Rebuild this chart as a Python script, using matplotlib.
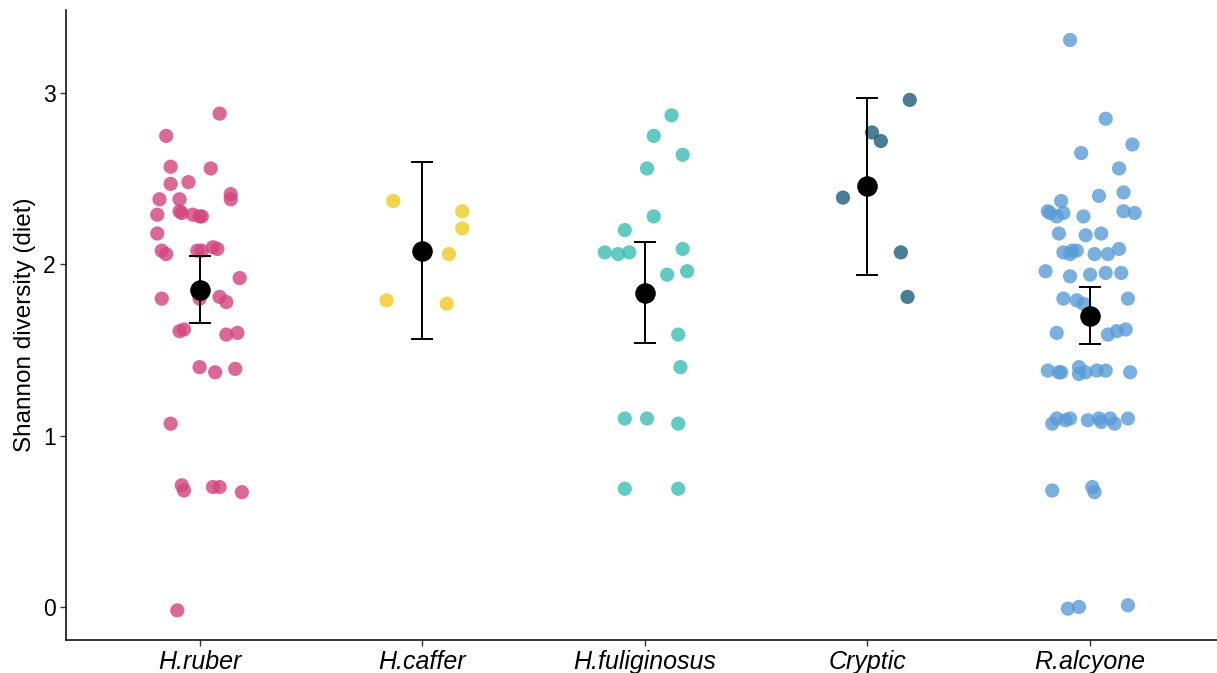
import numpy as np
import matplotlib.pyplot as plt

# species on the x axis
species = ["H.ruber", "H.caffer", "H.fuliginosus", "Cryptic", "R.alcyone"]
colors = ["#D3437D", "#EFCB22", "#3CBDB3", "#1E5C7C", "#5A9BD6"]

# jittered points: horizontal offset (category units) and Shannon diversity
ruber_dx = [0.09, -0.15, -0.13, 0.05, -0.13, -0.05, -0.18, 0.14, 0.14, -0.09,
            -0.19, -0.09, -0.08, -0.03, 0.00, 0.01, -0.19, -0.17, -0.15, -0.01,
            0.01, 0.06, 0.08, 0.18, -0.17, 0.00, 0.09, 0.12, -0.09, -0.07,
            0.12, 0.17, 0.00, 0.07, 0.16, -0.13, -0.08, -0.07, 0.06, 0.09,
            0.19, -0.10]
ruber_y = [2.88, 2.75, 2.57, 2.56, 2.47, 2.48, 2.38, 2.41, 2.38, 2.38,
           2.29, 2.31, 2.30, 2.29, 2.28, 2.28, 2.18, 2.08, 2.06, 2.08,
           2.08, 2.10, 2.09, 1.92, 1.80, 1.80, 1.81, 1.78, 1.61, 1.62,
           1.59, 1.60, 1.40, 1.37, 1.39, 1.07, 0.71, 0.68, 0.70, 0.70,
           0.67, -0.02]

caffer_dx = [-0.13, 0.18, 0.18, 0.12, -0.16, 0.11]
caffer_y = [2.37, 2.31, 2.21, 2.06, 1.79, 1.77]

fulig_dx = [0.12, 0.04, 0.17, 0.01, 0.04, -0.09, -0.18, -0.12, -0.07, 0.17,
            0.10, 0.19, 0.15, 0.16, -0.09, 0.01, 0.15, -0.09, 0.15]
fulig_y = [2.87, 2.75, 2.64, 2.56, 2.28, 2.20, 2.07, 2.06, 2.07, 2.09,
           1.94, 1.96, 1.59, 1.40, 1.10, 1.10, 1.07, 0.69, 0.69]

cryptic_dx = [0.19, 0.02, 0.06, -0.11, 0.15, 0.18]
cryptic_y = [2.96, 2.77, 2.72, 2.39, 2.07, 1.81]

alcy_dx = [-0.09, 0.07, 0.19, -0.04, 0.13, 0.04, 0.15, -0.13, -0.19, -0.18,
           -0.15, -0.12, -0.03, 0.15, 0.20, -0.14, -0.02, 0.05, -0.12, -0.09,
           -0.08, -0.06, 0.02, 0.08, 0.13, -0.20, -0.09, 0.00, 0.07, 0.14,
           -0.12, -0.06, -0.03, 0.17, -0.15, 0.08, 0.12, 0.16, -0.19, -0.14,
           -0.13, -0.05, -0.05, -0.02, 0.03, 0.07, 0.18, -0.17, -0.15, -0.11,
           -0.09, -0.01, 0.04, 0.05, 0.09, 0.11, 0.17, -0.17, 0.01, 0.02,
           -0.10, -0.05, 0.17]
alcy_y = [3.31, 2.85, 2.70, 2.65, 2.56, 2.40, 2.42, 2.37, 2.31, 2.30,
          2.28, 2.30, 2.28, 2.31, 2.30, 2.18, 2.17, 2.18, 2.07, 2.06,
          2.08, 2.08, 2.06, 2.06, 2.09, 1.96, 1.93, 1.94, 1.95, 1.95,
          1.80, 1.79, 1.77, 1.80, 1.60, 1.59, 1.61, 1.62, 1.38, 1.37,
          1.37, 1.40, 1.36, 1.37, 1.38, 1.38, 1.37, 1.07, 1.10, 1.09,
          1.10, 1.09, 1.10, 1.08, 1.10, 1.07, 1.10, 0.68, 0.70, 0.67,
          -0.01, 0.00, 0.01]

all_dx = [ruber_dx, caffer_dx, fulig_dx, cryptic_dx, alcy_dx]
all_y = [ruber_y, caffer_y, fulig_y, cryptic_y, alcy_y]

# group means with lower / upper interval
means = [1.85, 2.08, 1.83, 2.46, 1.70]
lower = [1.66, 1.565, 1.54, 1.94, 1.535]
upper = [2.05, 2.60, 2.13, 2.97, 1.87]

plt.rcParams['font.family'] = ['Liberation Sans', 'DejaVu Sans']

fig = plt.figure(figsize=(12.17, 6.73), dpi=100)
ax = fig.add_axes([66 / 1217, 33 / 673, 1 - 66 / 1217, 630 / 673])

for i, (dx, y) in enumerate(zip(all_dx, all_y)):
    x = i + np.array(dx)
    ax.scatter(x, y, s=105, color=colors[i], alpha=0.8, edgecolors='none', zorder=2)

xs = np.arange(len(species))
m = np.array(means)
ax.errorbar(xs, m, yerr=[m - np.array(lower), np.array(upper) - m], fmt='none',
            ecolor='black', elinewidth=1.4, capsize=8, capthick=1.4, zorder=3)
ax.scatter(xs, m, s=190, color='black', zorder=4)

ax.set_xlim(-0.6, 4.57)
ax.set_ylim(-0.193, 3.485)
ax.set_xticks(xs)
ax.set_xticklabels(species, fontstyle='italic', fontsize=18)
ax.set_yticks([0, 1, 2, 3])
ax.set_yticklabels(['0', '1', '2', '3'], fontsize=16.5)
ax.set_ylabel('Shannon diversity (diet)', fontsize=17.5, labelpad=5)
ax.tick_params(length=4.5, width=1, color='#333333', pad=3)

for s in ['top', 'right']:
    ax.spines[s].set_visible(False)
for s in ['left', 'bottom']:
    ax.spines[s].set_linewidth(1.1)

fig.savefig('out.png', dpi=100)
